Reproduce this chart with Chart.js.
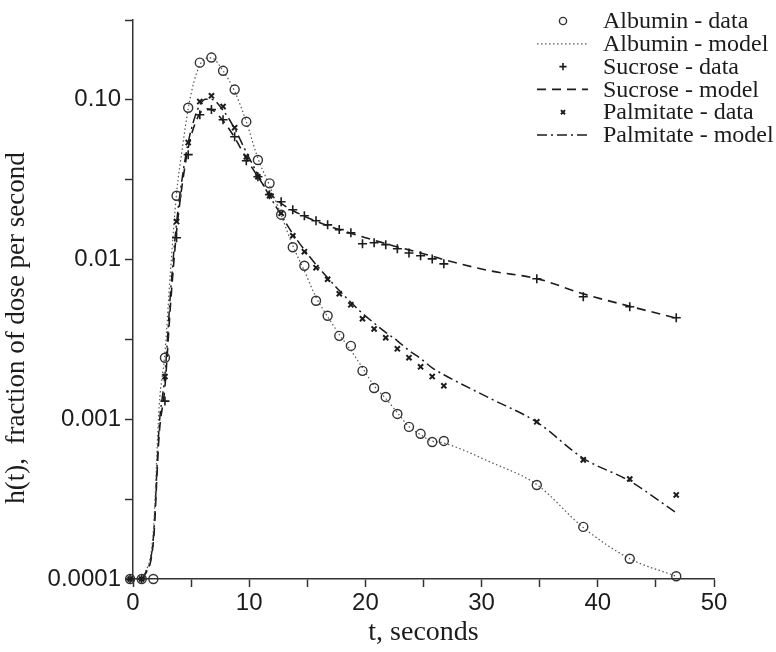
<!DOCTYPE html>
<html>
<head>
<meta charset="utf-8">
<title>h(t) - fraction of dose per second</title>
<script src="https://cdn.jsdelivr.net/npm/chart.js@4.4.1/dist/chart.umd.min.js"></script>
<style>
  html, body { margin: 0; padding: 0; background: #fff; }
  #wrap { width: 776px; height: 652px; }
</style>
</head>
<body>
<div id="wrap"><canvas id="hChart" width="776" height="652"></canvas></div>
<script>
// sample times (s) of the measured points
const dataTimes = [-0.25, 0.75, 1.75, 2.75, 3.75, 4.75, 5.75, 6.75, 7.75, 8.75, 9.75,
  10.75, 11.75, 12.75, 13.75, 14.75, 15.75, 16.75, 17.75, 18.75, 19.75,
  20.75, 21.75, 22.75, 23.75, 24.75, 25.75, 26.75, 34.75, 38.75, 42.75, 46.75];

const albuminData = [0.0001, 0.0001, 0.0001, 0.00243, 0.0251, 0.0893, 0.171, 0.184, 0.152, 0.116, 0.073,
  0.042, 0.030, 0.0191, 0.01195, 0.00915, 0.00552, 0.00445, 0.00333, 0.00288, 0.00201,
  0.00157, 0.00138, 0.00108, 0.000896, 0.000811, 0.000721, 0.000732, 0.000388, 0.000212, 0.000134, 0.000104];

const sucroseData = [0.0001, 0.0001, null, 0.0013, 0.0137, 0.0454, 0.0807, 0.0869, 0.0751, 0.0587, 0.0416,
  0.033, 0.0255, 0.0230, 0.0205, 0.0188, 0.0175, 0.0165, 0.0154, 0.0147, 0.01257,
  0.01274, 0.0124, 0.0117, 0.0110, 0.01057, 0.0101, 0.0094, 0.00759, 0.00585, 0.00506, 0.00432];

const palmitateData = [0.0001, 0.0001, null, 0.00185, 0.0173, 0.054, 0.0975, 0.106, 0.0908, 0.067, 0.044,
  0.033, 0.0251, 0.0195, 0.0141, 0.0112, 0.0089, 0.00753, 0.00611, 0.00521, 0.00426,
  0.00368, 0.00324, 0.00276, 0.00243, 0.00213, 0.00185, 0.00162, 0.000964, 0.000557, 0.000423, 0.000336];

// model curves
const modelTimes = [0.85, 1.75, 2.25, 2.75, 3.25, 3.75, 4.25, 4.75, 5.25, 5.75, 6.25, 6.75, 7.75, 8.75, 9.75,
  10.75, 11.75, 12.75, 13.75, 14.75, 15.75, 16.75, 17.75, 18.75, 19.75,
  20.75, 21.75, 22.75, 23.75, 24.75, 25.75, 26.75, 30.75, 34.75, 38.75, 42.75, 46.75];

const albuminModel = [0.0001, 0.0002, 0.0012, 0.0026, 0.009, 0.026, 0.05, 0.088, 0.13, 0.165, 0.182, 0.183, 0.152, 0.113, 0.073,
  0.043, 0.029, 0.019, 0.0122, 0.0085, 0.0058, 0.0044, 0.0034, 0.0027, 0.0021,
  0.00162, 0.00135, 0.0011, 0.0009, 0.0008, 0.00073, 0.00071, 0.00054, 0.00039, 0.00021, 0.000134, 0.000104];

const sucroseModel = [0.0001, 0.00017, 0.0008, 0.0016, 0.0055, 0.015, 0.03, 0.05, 0.068, 0.082, 0.088, 0.087, 0.074, 0.058, 0.043,
  0.033, 0.026, 0.0225, 0.0203, 0.0187, 0.0174, 0.0163, 0.0154, 0.0146, 0.0139,
  0.0132, 0.0126, 0.0120, 0.0115, 0.0110, 0.0105, 0.0100, 0.0085, 0.0076, 0.0061, 0.0051, 0.0043];

const palmitateModel = [0.0001, 0.00018, 0.0009, 0.0019, 0.0065, 0.017, 0.033, 0.054, 0.075, 0.093, 0.101, 0.101, 0.086, 0.066, 0.047,
  0.034, 0.025, 0.019, 0.0145, 0.0115, 0.0093, 0.0077, 0.0064, 0.0054, 0.0046,
  0.0040, 0.0035, 0.0031, 0.0027, 0.0024, 0.0021, 0.0019, 0.00135, 0.00096, 0.00057, 0.00041, 0.00026];

// axis ticks
const xTickValues = [0, 5, 10, 15, 20, 25, 30, 35, 40, 45, 50];
const yTickValues = [0.0001, 0.000316, 0.001, 0.00316, 0.01, 0.0316, 0.1, 0.316];
const yTickLabels = ['0.0001', '', '0.001', '', '0.01', '', '0.10', ''];

const INK = '#1c1c1c';
const SERIF = '"Liberation Serif", "Times New Roman", serif';
const SANS = '"Liberation Sans", Arial, sans-serif';

function pts(xs, ys) {
  return xs.map((x, i) => ({ x: x, y: ys[i] }));
}

const datasets = [
  {
    label: 'Albumin - model', data: pts(modelTimes, albuminModel), showLine: true,
    borderColor: '#555', borderWidth: 1.2, borderDash: [1.5, 2.5], pointRadius: 0,
    cubicInterpolationMode: 'monotone', clip: false, order: 3
  },
  {
    label: 'Sucrose - model', data: pts(modelTimes, sucroseModel), showLine: true,
    borderColor: INK, borderWidth: 1.6, borderDash: [9, 6], pointRadius: 0,
    cubicInterpolationMode: 'monotone', clip: false, order: 3
  },
  {
    label: 'Palmitate - model', data: pts(modelTimes, palmitateModel), showLine: true,
    borderColor: INK, borderWidth: 1.5, borderDash: [10, 4, 2, 4], pointRadius: 0,
    cubicInterpolationMode: 'monotone', clip: false, order: 3
  },
  {
    label: 'Albumin - data', data: pts(dataTimes, albuminData), showLine: false,
    pointStyle: 'circle', pointRadius: 4.5, borderColor: '#333', backgroundColor: 'rgba(255,255,255,0)',
    pointBorderWidth: 1.4, clip: false, order: 1
  },
  {
    label: 'Sucrose - data', data: pts(dataTimes, sucroseData), showLine: false,
    pointStyle: 'cross', pointRadius: 4.5, borderColor: INK, pointBorderWidth: 1.6, clip: false, order: 1
  },
  {
    label: 'Palmitate - data', data: pts(dataTimes, palmitateData), showLine: false,
    pointStyle: 'crossRot', pointRadius: 3.6, borderColor: INK, pointBorderWidth: 2, clip: false, order: 1
  }
];

// legend order as in the figure
const legendOrder = ['Albumin - data', 'Albumin - model', 'Sucrose - data', 'Sucrose - model', 'Palmitate - data', 'Palmitate - model'];

const figureText = {
  id: 'figureText',
  afterDraw(chart) {
    const ctx = chart.ctx;
    ctx.save();
    // y axis title
    ctx.fillStyle = INK;
    ctx.font = '27px ' + SERIF;
    ctx.textAlign = 'center';
    ctx.textBaseline = 'middle';
    ctx.translate(17, 328);
    ctx.rotate(-Math.PI / 2);
    ctx.fillText('h(t),  fraction of dose per second', 0, 0);
    ctx.restore();

    // legend
    ctx.save();
    ctx.font = '24px ' + SERIF;
    ctx.textAlign = 'left';
    ctx.textBaseline = 'middle';
    legendOrder.forEach((name, i) => {
      const ds = chart.data.datasets.find(d => d.label === name);
      const y = 21 + i * 22.8;
      ctx.strokeStyle = ds.borderColor;
      ctx.fillStyle = 'rgba(255,255,255,0)';
      if (ds.showLine) {
        ctx.lineWidth = ds.borderWidth;
        ctx.setLineDash(ds.borderDash || []);
        ctx.beginPath();
        ctx.moveTo(537, y);
        ctx.lineTo(588, y);
        ctx.stroke();
        ctx.setLineDash([]);
      } else {
        ctx.lineWidth = ds.pointBorderWidth;
        Chart.helpers.drawPoint(ctx, {
          pointStyle: ds.pointStyle, rotation: 0,
          radius: ds.pointRadius * 0.8, borderWidth: ds.pointBorderWidth
        }, 563, y);
      }
      ctx.fillStyle = INK;
      ctx.fillText(name, 603, y + 1);
    });
    ctx.restore();
  }
};

new Chart(document.getElementById('hChart').getContext('2d'), {
  type: 'scatter',
  data: { datasets: datasets },
  options: {
    responsive: false,
    devicePixelRatio: 1,
    animation: false,
    layout: { padding: { top: 20, right: 62, left: 0, bottom: 0 } },
    plugins: { legend: { display: false }, tooltip: { enabled: false } },
    scales: {
      x: {
        type: 'linear', min: 0, max: 50,
        afterBuildTicks: s => { s.ticks = xTickValues.map(v => ({ value: v })); },
        afterFit: s => { s.height = 73; },
        ticks: {
          callback: v => (v % 10 === 0 ? String(v) : ''),
          font: { family: SANS, size: 24 }, color: INK, padding: 2,
          maxRotation: 0, autoSkip: false
        },
        grid: { drawOnChartArea: false, drawTicks: true, tickLength: 8, color: '#333', tickWidth: 1.5 },
        border: { color: '#333', width: 1.5 },
        title: {
          display: true, text: 't, seconds', color: INK,
          font: { family: SERIF, size: 28 }, padding: { top: 0, bottom: 3 }
        }
      },
      y: {
        type: 'logarithmic', min: 0.0001, max: Math.pow(10, -0.5),
        afterBuildTicks: s => { s.ticks = yTickValues.map(v => ({ value: v })); },
        afterFit: s => { s.width = 133; },
        ticks: {
          callback: (v, i) => yTickLabels[i],
          font: { family: SANS, size: 24 }, color: INK, padding: 4,
          autoSkip: false
        },
        grid: { drawOnChartArea: false, drawTicks: true, tickLength: 8, color: '#333', tickWidth: 1.5 },
        border: { color: '#333', width: 1.5 }
      }
    }
  },
  plugins: [figureText]
});
</script>
</body>
</html>
